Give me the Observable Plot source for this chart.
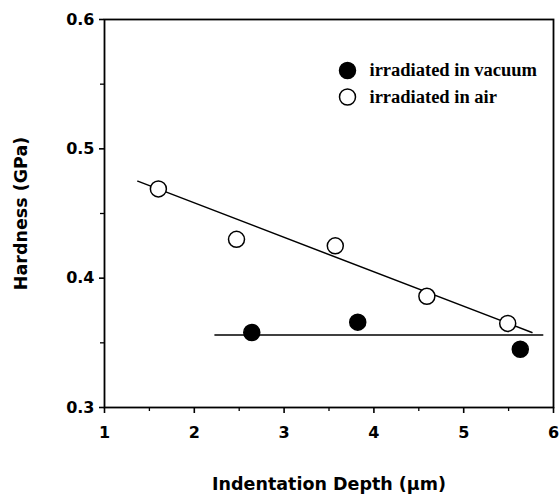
<!DOCTYPE html>
<html>
<head>
<meta charset="utf-8">
<script src="https://cdn.jsdelivr.net/npm/d3@7"></script>
<script src="https://cdn.jsdelivr.net/npm/@observablehq/plot@0.6"></script>
<style>
  html, body { margin: 0; padding: 0; background: #fff; }
  #chart svg { display: block; }
</style>
</head>
<body>
<div id="chart"></div>
<script>
// ---- data ----
const airDepth   = [1.60, 2.47, 3.57, 4.59, 5.49];
const airHard    = [0.469, 0.430, 0.425, 0.386, 0.365];
const vacDepth   = [2.64, 3.82, 5.63];
const vacHard    = [0.358, 0.366, 0.345];
const airFitDepth = [1.37, 5.76];
const airFitHard  = [0.475, 0.358];
const vacFitDepth = [2.23, 5.88];
const vacFitHard  = [0.356, 0.356];
const xTicks = [1, 2, 3, 4, 5, 6];
const xMinor = [1.5, 2.5, 3.5, 4.5, 5.5];
const yTicks = [0.3, 0.4, 0.5, 0.6];
const yMinor = [0.35, 0.45, 0.55];
const legendLabels = ["irradiated in vacuum", "irradiated in air"];
const xLabel = "Indentation Depth (\u03bcm)";
const yLabel = "Hardness (GPa)";

const air = airDepth.map((d, i) => ({x: d, y: airHard[i]}));
const vac = vacDepth.map((d, i) => ({x: d, y: vacHard[i]}));
const airFit = airFitDepth.map((d, i) => ({x: d, y: airFitHard[i]}));
const vacFit = vacFitDepth.map((d, i) => ({x: d, y: vacFitHard[i]}));

const sans = "'DejaVu Sans', sans-serif";
const serif = "'Liberation Serif', 'Times New Roman', serif";

const chart = Plot.plot({
  width: 559,
  height: 495,
  marginLeft: 104,
  marginRight: 6,
  marginTop: 19,
  marginBottom: 88,
  style: {fontFamily: sans, background: "white", color: "black", overflow: "visible"},
  x: {domain: [1, 6], range: [104, 553]},
  y: {domain: [0.3, 0.6], range: [407, 19]},
  marks: [
    Plot.axisX({ticks: xTicks, tickSize: 6, tickPadding: 13, tickFormat: d => d, fontSize: 16, fontWeight: "bold", strokeWidth: 1.6, label: null}),
    Plot.axisX({ticks: xMinor, tickSize: 4, tickFormat: () => "", strokeWidth: 1.3, label: null}),
    Plot.axisY({ticks: yTicks, tickSize: 5, tickPadding: 5, tickFormat: d3.format(".1f"), fontSize: 16, fontWeight: "bold", strokeWidth: 1.6, label: null}),
    Plot.axisY({ticks: yMinor, tickSize: 4, tickFormat: () => "", strokeWidth: 1.3, label: null}),
    Plot.frame({stroke: "black", strokeWidth: 1.8}),
    Plot.line(airFit, {x: "x", y: "y", stroke: "black", strokeWidth: 1.5}),
    Plot.line(vacFit, {x: "x", y: "y", stroke: "black", strokeWidth: 1.5}),
    Plot.dot(air, {x: "x", y: "y", r: 8, fill: "white", stroke: "black", strokeWidth: 1.5}),
    Plot.dot(vac, {x: "x", y: "y", r: 8, fill: "black", stroke: "black", strokeWidth: 1.5}),
    // legend
    Plot.dot([legendLabels[0]], {frameAnchor: "top-left", dx: 243, dy: 51, r: 8, fill: "black", stroke: "black", strokeWidth: 1.5}),
    Plot.dot([legendLabels[1]], {frameAnchor: "top-left", dx: 243, dy: 77.5, r: 8, fill: "white", stroke: "black", strokeWidth: 1.5}),
    Plot.text([legendLabels[0]], {text: d => d, frameAnchor: "top-left", dx: 265, dy: 51, textAnchor: "start", lineAnchor: "middle", fontFamily: serif, fontWeight: "bold", fontSize: 18.5}),
    Plot.text([legendLabels[1]], {text: d => d, frameAnchor: "top-left", dx: 265, dy: 77.5, textAnchor: "start", lineAnchor: "middle", fontFamily: serif, fontWeight: "bold", fontSize: 18.5}),
    // axis titles
    Plot.text([xLabel], {text: d => d, frameAnchor: "bottom", dy: 82, textAnchor: "middle", lineAnchor: "bottom", fontWeight: "bold", fontSize: 17.5}),
    Plot.text([yLabel], {text: d => d, frameAnchor: "left", dx: -83, rotate: -90, textAnchor: "middle", lineAnchor: "middle", fontWeight: "bold", fontSize: 17.5})
  ]
});
document.getElementById("chart").append(chart);
</script>
</body>
</html>
